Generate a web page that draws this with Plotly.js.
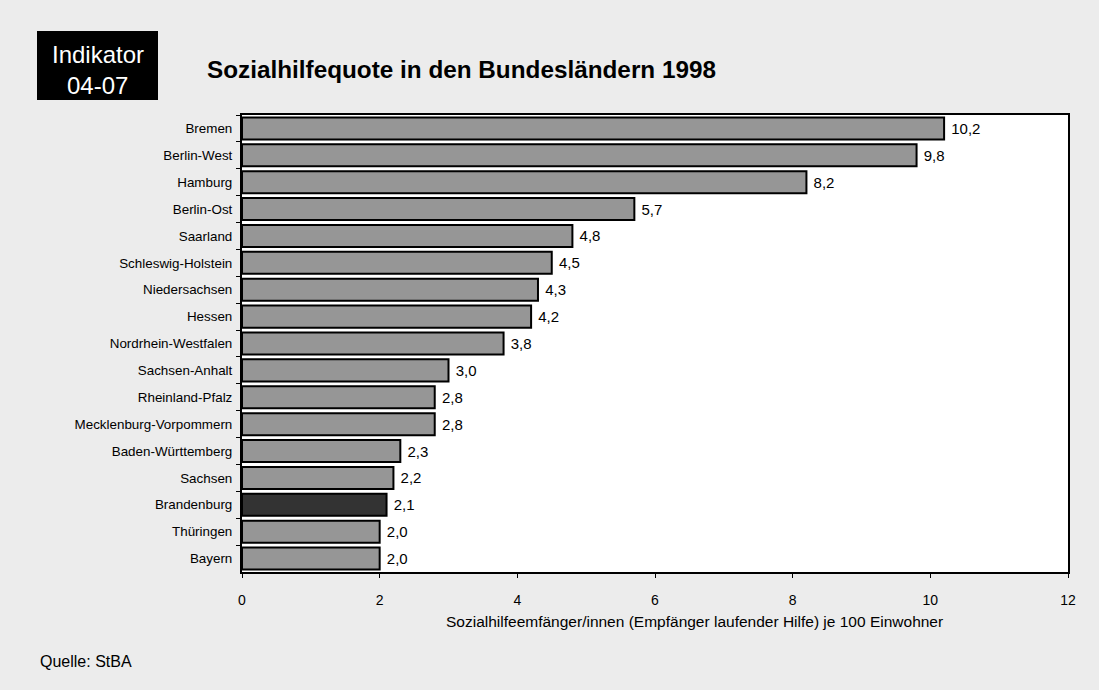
<!DOCTYPE html>
<html>
<head>
<meta charset="utf-8">
<script src="https://cdn.plot.ly/plotly-3.0.1.min.js"></script>
<style>html,body{margin:0;padding:0;background:#ececec;}#chart{width:1099px;height:690px;}</style>
</head>
<body>
<div id="chart"></div>
<script>
const laender = ["Bremen","Berlin-West","Hamburg","Berlin-Ost","Saarland","Schleswig-Holstein","Niedersachsen","Hessen","Nordrhein-Westfalen","Sachsen-Anhalt","Rheinland-Pfalz","Mecklenburg-Vorpommern","Baden-Württemberg","Sachsen","Brandenburg","Thüringen","Bayern"];
const quote = [10.2,9.8,8.2,5.7,4.8,4.5,4.3,4.2,3.8,3.0,2.8,2.8,2.3,2.2,2.1,2.0,2.0];
const xTicks = [0,2,4,6,8,10,12];
const highlight = "Brandenburg";
const xTitle = "Sozialhilfeemfänger/innen (Empfänger laufender Hilfe) je 100 Einwohner";

const colors = laender.map(l => l === highlight ? "#333333" : "#969696");

// pixel -> paper helpers (plot area: x 242..1068, y 115..572)
const PX = x => (x - 242) / 826;
const PY = y => (572 - y) / 457;

const trace = {
  type: "bar",
  orientation: "h",
  y: laender,
  x: quote,
  marker: {color: colors, line: {color: "#000000", width: 2}},
  text: quote.map(v => "\u00a0" + v.toFixed(1).replace(".", ",")),
  textposition: "outside",
  cliponaxis: false,
  textfont: {family: "Liberation Sans, Arial, sans-serif", size: 15, color: "#000"},
  hoverinfo: "none"
};

const layout = {
  width: 1099, height: 690,
  paper_bgcolor: "#ececec",
  plot_bgcolor: "#ffffff",
  margin: {l: 242, r: 31, t: 115, b: 118},
  font: {family: "Liberation Sans, Arial, sans-serif", size: 13, color: "#000"},
  separators: ",.",
  bargap: 0.18,
  showlegend: false,
  xaxis: {
    range: [0, 12],
    tickvals: xTicks,
    ticks: "outside", ticklen: 4, tickcolor: "#000", tickwidth: 1,
    ticklabelstandoff: 10,
    showgrid: false, zeroline: false,
    showline: true, linecolor: "#000", linewidth: 2, mirror: true,
    tickfont: {size: 14}
  },
  yaxis: {
    type: "category",
    autorange: "reversed",
    tickson: "boundaries",
    ticks: "outside", ticklen: 4, tickcolor: "#000", tickwidth: 1,
    ticklabelstandoff: 5,
    showgrid: false, zeroline: false,
    showline: true, linecolor: "#000", linewidth: 2, mirror: true,
    tickfont: {size: 13.4}
  },
  shapes: [
    {type: "rect", xref: "paper", yref: "paper", x0: PX(37), x1: PX(158), y0: PY(100), y1: PY(31), fillcolor: "#000", line: {width: 0}}
  ],
  annotations: [
    {xref: "paper", yref: "paper", x: PX(97.5), y: PY(54), text: "Indikator", showarrow: false, font: {size: 24, color: "#fff"}, xanchor: "center", yanchor: "middle"},
    {xref: "paper", yref: "paper", x: PX(97.5), y: PY(85), text: "04-07", showarrow: false, font: {size: 24, color: "#fff"}, xanchor: "center", yanchor: "middle"},
    {xref: "paper", yref: "paper", x: PX(205), y: PY(70), text: "<b>Sozialhilfequote in den Bundesländern 1998</b>", showarrow: false, font: {size: 24.3}, xanchor: "left", yanchor: "middle"},
    {xref: "paper", yref: "paper", x: PX(694.5), y: PY(621), text: xTitle, showarrow: false, font: {size: 15.5}, xanchor: "center", yanchor: "middle"},
    {xref: "paper", yref: "paper", x: PX(38), y: PY(661), text: "Quelle: StBA", showarrow: false, font: {size: 16}, xanchor: "left", yanchor: "middle"}
  ]
};

Plotly.newPlot("chart", [trace], layout, {displayModeBar: false, staticPlot: true});
</script>
</body>
</html>
